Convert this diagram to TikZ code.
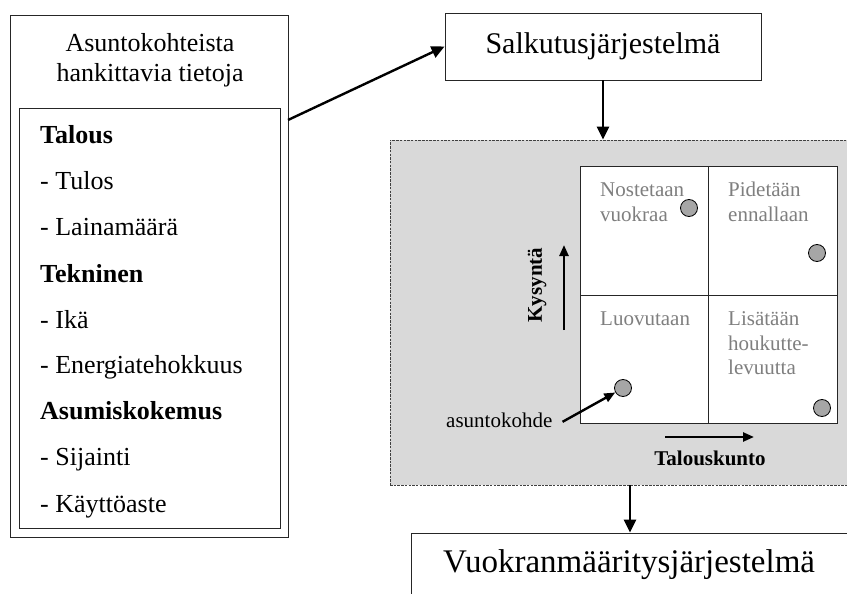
\documentclass[tikz,border=0pt]{standalone}
\usepackage{fontspec}
\setmainfont{Liberation Serif}
\usetikzlibrary{arrows.meta}

\definecolor{tausta}{HTML}{D9D9D9}
\definecolor{vaalea}{HTML}{7F7F7F}
\definecolor{pallo}{HTML}{A6A6A6}

\begin{document}
\begin{tikzpicture}[x=1pt,y=-1pt,
		laatikko/.style={draw=black!85,line width=0.9pt,fill=white,inner sep=0pt},
		nuoli/.style={line width=2.4pt,-{Triangle[length=13pt,width=12pt]}},
		pnuoli/.style={line width=2.4pt,-{Triangle[length=11pt,width=9pt]}},
		teksti/.style={font=\fontsize{26}{30}\selectfont,inner sep=0pt,anchor=base west},
		lohko/.style={font=\fontsize{21}{25}\selectfont,text=vaalea,inner sep=0pt,anchor=base west},
		kohta/.style={circle,draw=black,line width=0.8pt,fill=pallo,minimum size=17pt,inner sep=0pt}]
	\clip (0,0) rectangle (847,594);
	\fill[white] (0,0) rectangle (847,594);
	% vasen laatikko
	\node[laatikko,minimum width=278pt,minimum height=522pt] (tiedot) at (149,276) {};
	\node[laatikko,minimum width=261pt,minimum height=420pt] (lista) at (149.5,318) {};
	\node[teksti,anchor=base] (otsikko1) at (150,52) {Asuntokohteista};
	\node[teksti,anchor=base] (otsikko2) at (150,82) {hankittavia tietoja};
	\node[teksti] (talous) at (40,143) {\textbf{Talous}};
	\node[teksti] (tulos) at (40,189) {- Tulos};
	\node[teksti] (laina) at (40,235) {- Lainamäärä};
	\node[teksti] (tekninen) at (40,282) {\textbf{Tekninen}};
	\node[teksti] (ika) at (40,328) {- Ikä};
	\node[teksti] (energia) at (40,373) {- Energiatehokkuus};
	\node[teksti] (asuminen) at (40,419) {\textbf{Asumiskokemus}};
	\node[teksti] (sijainti) at (40,465) {- Sijainti};
	\node[teksti] (kaytto) at (40,512) {- Käyttöaste};
	\coordinate (lahto) at (288,120);
	% salkutus
	\node[laatikko,minimum width=316pt,minimum height=67pt,font=\fontsize{30}{34}\selectfont] (salkku) at (603,46.5) {Salkutusjärjestelmä};
	\draw[nuoli] (lahto) -- (salkku.west);
	% harmaa alue
	\node[draw=black!75,fill=tausta,line width=0.8pt,dash pattern=on 2.5pt off 1.2pt,minimum width=520pt,minimum height=345pt,inner sep=0pt] (harmaa) at (650,312.5) {};
	\draw[nuoli] (salkku.south) -- (salkku.south |- harmaa.north);
	% nelikentta
	\node[laatikko,minimum width=128pt,minimum height=129pt] (q1) at (644,230.5) {};
	\node[laatikko,minimum width=129pt,minimum height=129pt] (q2) at (772.5,230.5) {};
	\node[laatikko,minimum width=128pt,minimum height=128pt] (q3) at (644,359) {};
	\node[laatikko,minimum width=129pt,minimum height=128pt] (q4) at (772.5,359) {};
	\node[lohko] (nosto1) at (600,196) {Nostetaan};
	\node[lohko] (nosto2) at (600,221) {vuokraa};
	\node[lohko] (pito1) at (728,196) {Pidetään};
	\node[lohko] (pito2) at (728,221) {ennallaan};
	\node[lohko] (luovutus) at (600,325) {Luovutaan};
	\node[lohko] (lisays1) at (728,325) {Lisätään};
	\node[lohko] (lisays2) at (728,350) {houkutte-};
	\node[lohko] (lisays3) at (728,374) {levuutta};
	\node[kohta] (p1) at (689,208) {};
	\node[kohta] (p2) at (817,253) {};
	\node[kohta] (p3) at (623,388) {};
	\node[kohta] (p4) at (822,408) {};
	% akselit
	\node[font=\fontsize{21}{25}\selectfont\bfseries,rotate=90,inner sep=0pt] (kysynta) at (537,285) {Kysyntä};
	\coordinate (k1) at (564,330);
	\coordinate (k2) at (564,245);
	\draw[pnuoli] (k1) -- (k2);
	\node[font=\fontsize{21}{25}\selectfont\bfseries,inner sep=0pt,anchor=base] (kunto) at (710,465) {Talouskunto};
	\coordinate (t1) at (665,437);
	\coordinate (t2) at (754,437);
	\draw[pnuoli] (t1) -- (t2);
	\node[lohko,text=black,inner sep=3pt] (kohde) at (443,427) {asuntokohde};
	\draw[pnuoli] ([xshift=7pt,yshift=-2pt]kohde.east) -- (p3.210);
	% vuokranmaaritys
	\node[laatikko,minimum width=480pt,minimum height=120pt] (vuokra) at (651,593) {};
	\node[font=\fontsize{33}{38}\selectfont,inner sep=0pt,anchor=base west] (vuokrateksti) at (443,572) {Vuokranmääritysjärjestelmä};
	\coordinate (v) at (630,0);
	\draw[nuoli] (harmaa.south -| v) -- (vuokra.north -| v);
\end{tikzpicture}
\end{document}
